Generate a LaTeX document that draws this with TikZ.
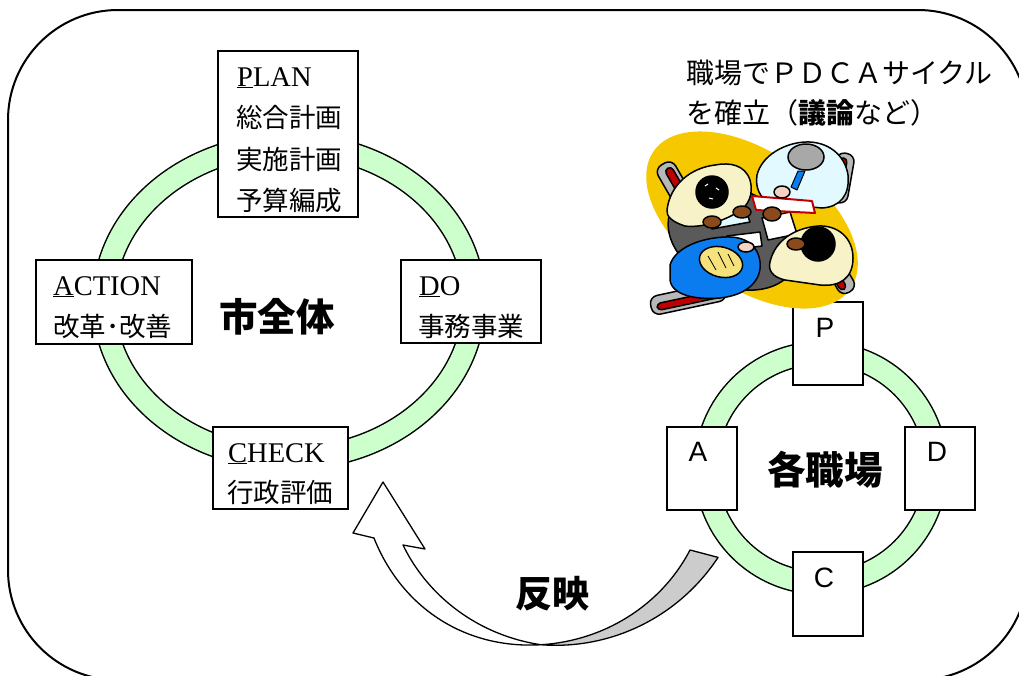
\documentclass[tikz,border=0pt]{standalone}
\usepackage{fontspec}
\setmainfont{Liberation Serif}
\newfontfamily\jpfont{Noto Sans CJK JP}
\newfontfamily\lsans{Liberation Sans}
\definecolor{ringgreen}{HTML}{CCFFCC}
\definecolor{arrowgray}{HTML}{CCCCCC}
\definecolor{clipyellow}{HTML}{F6C800}
\definecolor{tablegray}{HTML}{5A5A5A}
\definecolor{chairred}{HTML}{C00000}
\definecolor{chairgray}{HTML}{B8B8B8}
\definecolor{cream}{HTML}{F8F2C8}
\definecolor{paleblue}{HTML}{E2FAFF}
\definecolor{shirtblue}{HTML}{0A7CF0}
\definecolor{blond}{HTML}{F6E27A}
\definecolor{skinbrown}{HTML}{8A4A1C}
\definecolor{skinlight}{HTML}{F4D2C4}
\definecolor{hairgray}{HTML}{A8A8A8}
\begin{document}
\begin{tikzpicture}[x=1pt,y=-1pt,
  ringedge/.style={line width=24pt,draw=black},
  ringfill/.style={line width=21pt,draw=ringgreen},
  box/.style={draw,fill=white,line width=1.5pt,inner sep=0pt},
  lat/.style={font=\fontsize{28.5}{30}\selectfont,anchor=base west,inner sep=0pt},
  jp/.style={font=\jpfont\fontsize{26.5}{30}\selectfont,anchor=base west,inner sep=0pt},
  letter/.style={font=\lsans\fontsize{28}{30}\selectfont,anchor=base,inner sep=0pt},
  title/.style={font=\jpfont\bfseries\fontsize{38.5}{40}\selectfont,anchor=base,inner sep=0pt},
  note/.style={font=\jpfont\fontsize{28}{30}\selectfont,anchor=base west,inner sep=0pt},
  outline/.style={draw=black,line width=1.5pt,line join=round}]
\useasboundingbox (0,0) rectangle (1019,675);
\clip (0,0) rectangle (1019,675);

% outer frame
\draw[line width=2pt,rounded corners=110pt] (8,10) rectangle (1028,680);

% city-wide cycle ring
\draw[ringedge] (289,301.5) ellipse [x radius=185pt,y radius=157pt];
\draw[ringfill] (289,301.5) ellipse [x radius=185pt,y radius=157pt];

% workplace cycle ring
\draw[ringedge] (821,468) circle (115pt);
\draw[ringfill] (821,468) circle (115pt);

% city-wide boxes
\node[box,minimum width=140pt,minimum height=166pt] (plan) at (288,134) {};
\node[box,minimum width=156pt,minimum height=84pt] (action) at (114,302) {};
\node[box,minimum width=140pt,minimum height=83pt] (do) at (471,301.5) {};
\node[box,minimum width=135pt,minimum height=82pt] (check) at (280.5,468) {};

\node[lat] (planA) at (237,86) {\underline{P}LAN};
\node[jp] (planB) at (236,127.5) {総合計画};
\node[jp] (planC) at (236,169.5) {実施計画};
\node[jp] (planD) at (236,210.5) {予算編成};

\node[lat] (actA) at (53,295) {\underline{A}CTION};
\node[jp] (actB) at (53,336) {改革･改善};

\node[lat] (doA) at (419,295) {\underline{D}O};
\node[jp] (doB) at (418,336) {事務事業};

\node[lat] (chkA) at (228,462) {\underline{C}HECK};
\node[jp] (chkB) at (227,502.5) {行政評価};

\node[title] (city) at (277,331.5) {市全体};

% workplace boxes
\node[box,minimum width=70pt,minimum height=83pt] (p) at (828,343.5) {};
\node[box,minimum width=70pt,minimum height=83pt] (d) at (940,468.5) {};
\node[box,minimum width=70pt,minimum height=83pt] (a) at (702,468.5) {};
\node[box,minimum width=70pt,minimum height=84pt] (c) at (828,594) {};
\node[letter] (pl) at (825,337) {P};
\node[letter] (dl) at (937,461) {D};
\node[letter] (al) at (698,461) {A};
\node[letter] (cl) at (824,587) {C};
\node[title] (work) at (825,484.5) {各職場};

% feedback ribbon arrow
\begin{scope}[shift={(551,453)},line width=1.3pt,line join=round]
  \filldraw[fill=arrowgray]
    plot[domain=32:93,samples=40] (\x:{197-5*(\x-32)/61})
    -- plot[domain=93:34.9,samples=40] (\x:{192-22.5*(93-\x)/58.1}) -- cycle;
  \filldraw[fill=white]
    plot[domain=93:154.35,samples=50] (\x:{192+4.4*(\x-93)/61.35+6*sin(180*(\x-93)/61.35)})
    -- (-198,80) -- (-168,29) -- (-126,96) -- (-148,92)
    -- plot[domain=148.1:93,samples=40] (\x:{174.3+17.7*(148.1-\x)/55.1}) -- cycle;
\end{scope}
\node[title,font=\jpfont\bfseries\fontsize{37}{40}\selectfont] (reflect) at (552,607) {反映};

% caption at top right
\node[note] (noteA) at (686,83) {職場でＰＤＣＡサイクル};
\node[note] (noteB) at (686,123) {を確立（{\bfseries 議論}など）};

% meeting illustration
\fill[clipyellow,rotate around={-35:(752,220)}] (752,220) ellipse [x radius=120pt,y radius=68pt];
% chairs
\begin{scope}[outline]
  \filldraw[fill=chairgray,rounded corners=8pt,rotate around={-60:(678,190)}] (648,180) rectangle (708,200);
  \filldraw[fill=chairred,rounded corners=4pt,rotate around={-60:(678,190)}] (654,184) rectangle (702,192);
  \filldraw[fill=chairgray,rounded corners=8pt,rotate around={80:(842,178)}] (817,169) rectangle (867,187);
  \filldraw[fill=chairred,rounded corners=4pt,rotate around={80:(842,178)}] (822,172) rectangle (862,180);
  \filldraw[fill=chairgray,rounded corners=8pt,rotate around={-60:(838,272)}] (815,263) rectangle (861,281);
  \filldraw[fill=chairred,rounded corners=4pt,rotate around={-60:(838,272)}] (820,272) rectangle (856,279);
  \filldraw[fill=chairgray,rounded corners=8pt,rotate around={12:(688,298)}] (650,289) rectangle (726,308);
  \filldraw[fill=chairred,rounded corners=4pt,rotate around={12:(688,298)}] (656,297) rectangle (720,304);
\end{scope}
% table
\filldraw[outline,fill=tablegray,rotate around={-25:(733,238)}] (733,238) ellipse [x radius=68pt,y radius=48pt];
% papers on the table
\filldraw[outline,fill=paleblue] (703,205) -- (742,200) -- (750,222) -- (712,229) -- cycle;
\filldraw[outline,fill=white] (762,218) -- (790,212) -- (797,234) -- (768,240) -- cycle;
\filldraw[outline,fill=white] (727,236) -- (760,232) -- (762,246) -- (730,250) -- cycle;
% person top left
\filldraw[outline,fill=cream] (667,210) .. controls (670,185) and (690,168) .. (715,165)
  .. controls (730,162) and (745,165) .. (750,180) .. controls (754,195) and (748,206) .. (738,212)
  .. controls (722,222) and (700,228) .. (685,226) .. controls (672,222) and (666,216) .. (667,210) -- cycle;
\filldraw[outline,fill=black] (712,192) circle (16pt);
\draw[white,line width=1pt] (705,186) -- (708,184) (716,188) -- (719,190) (709,198) -- (713,199);
\filldraw[outline,fill=skinbrown] (742,212) ellipse [x radius=9pt,y radius=6pt];
\filldraw[outline,fill=skinbrown] (712,222) ellipse [x radius=9pt,y radius=6pt];
% person top right
\filldraw[outline,fill=paleblue] (757,175) .. controls (762,155) and (785,143) .. (805,142)
  .. controls (828,141) and (845,155) .. (848,175) .. controls (850,195) and (840,207) .. (822,208)
  -- (770,203) .. controls (760,198) and (755,188) .. (757,175) -- cycle;
\filldraw[outline,fill=hairgray] (806,157) ellipse [x radius=18pt,y radius=13pt];
\filldraw[outline,fill=shirtblue,line width=1pt] (798,171) -- (805,171) -- (797,190) -- (791,187) -- cycle;
\filldraw[outline,fill=white,draw=chairred,line width=2pt] (752,196) -- (812,201) -- (815,213) -- (756,210) -- cycle;
\filldraw[outline,fill=skinlight] (782,192) ellipse [x radius=8pt,y radius=6pt];
% person bottom left
\filldraw[outline,fill=shirtblue] (670,265) .. controls (675,248) and (700,238) .. (725,237)
  .. controls (745,236) and (758,245) .. (760,262) .. controls (762,280) and (748,295) .. (720,298)
  .. controls (695,300) and (672,295) .. (670,280) -- cycle;
\filldraw[outline,fill=blond,rotate around={-15:(721,262)}] (721,262) ellipse [x radius=22pt,y radius=15pt];
\draw[black,line width=0.8pt] (708,256) -- (716,270) (718,252) -- (726,268) (728,254) -- (734,266);
\filldraw[outline,fill=skinlight] (746,247) ellipse [x radius=8pt,y radius=5pt];
% person bottom right
\filldraw[outline,fill=cream] (770,262) .. controls (775,240) and (795,228) .. (818,226)
  .. controls (838,225) and (853,238) .. (853,258) .. controls (853,278) and (840,287) .. (820,285)
  -- (785,280) .. controls (772,277) and (768,270) .. (770,262) -- cycle;
\filldraw[outline,fill=black] (818,244) circle (17pt);
\filldraw[outline,fill=skinbrown] (772,214) ellipse [x radius=9pt,y radius=7pt];
\filldraw[outline,fill=skinbrown] (796,244) ellipse [x radius=9pt,y radius=6pt];
\end{tikzpicture}
\end{document}
